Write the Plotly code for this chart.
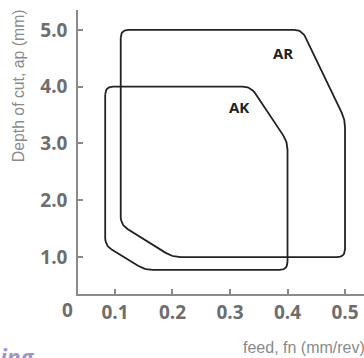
import numpy as np
import plotly.graph_objects as go

# Corner vertices of the two operating-area outlines (feed mm/rev, depth mm)
ar_feed = [0.11, 0.425, 0.5, 0.5, 0.2, 0.11]
ar_depth = [5.0, 5.0, 3.42, 1.0, 1.0, 1.57]
ak_feed = [0.083, 0.336, 0.4, 0.4, 0.152, 0.083]
ak_depth = [4.0, 4.0, 3.03, 0.775, 0.775, 1.2]

x_ticks = [0.1, 0.2, 0.3, 0.4, 0.5]
y_ticks = [1.0, 2.0, 3.0, 4.0, 5.0]

X_RANGE = [0.0357, 0.533]
Y_RANGE = [0.35, 5.35]
W, H = 364, 358
ML, MR, MT, MB = 78, 0, 10, 64
PW, PH = W - ML - MR, H - MT - MB
SX = PW / (X_RANGE[1] - X_RANGE[0])
SY = PH / (Y_RANGE[1] - Y_RANGE[0])


def rounded(xs, ys, r=8, n=10):
    px = np.array(xs) * SX
    py = np.array(ys) * SY
    m = len(px)
    out_x, out_y = [], []
    for i in range(m):
        p = np.array([px[i], py[i]])
        a = np.array([px[i - 1], py[i - 1]])
        b = np.array([px[(i + 1) % m], py[(i + 1) % m]])
        da = (a - p) / np.linalg.norm(a - p)
        db = (b - p) / np.linalg.norm(b - p)
        ra = min(r, np.linalg.norm(a - p) / 2)
        rb = min(r, np.linalg.norm(b - p) / 2)
        p0 = p + da * ra
        p2 = p + db * rb
        t = np.linspace(0, 1, n)[:, None]
        pts = (1 - t) ** 2 * p0 + 2 * (1 - t) * t * p + t ** 2 * p2
        out_x.extend(pts[:, 0])
        out_y.extend(pts[:, 1])
    out_x.append(out_x[0])
    out_y.append(out_y[0])
    return np.array(out_x) / SX, np.array(out_y) / SY


fig = go.Figure()
for fx, fy in [(ar_feed, ar_depth), (ak_feed, ak_depth)]:
    rx, ry = rounded(fx, fy)
    fig.add_trace(go.Scatter(x=rx, y=ry, mode="lines",
                             line=dict(color="#222222", width=1.8),
                             hoverinfo="skip", showlegend=False))

tick_font = dict(family="Open Sans", size=19, color="#6e6e6e", weight="bold")
axis_common = dict(showgrid=False, zeroline=False, showline=True,
                   linecolor="#8a8a8a", linewidth=1.5,
                   ticks="inside", ticklen=5, tickwidth=1.5, tickcolor="#8a8a8a",
                   tickfont=tick_font)

fig.update_layout(
    width=W, height=H,
    margin=dict(l=ML, r=MR, t=MT, b=MB),
    paper_bgcolor="white", plot_bgcolor="white",
    xaxis=dict(range=X_RANGE, tickvals=x_ticks,
               ticktext=[f"{v:.1f}" for v in x_ticks],
               ticklabelstandoff=0, **axis_common),
    yaxis=dict(range=Y_RANGE, tickvals=y_ticks,
               ticktext=[f"{v:.1f}" for v in y_ticks],
               ticklabelstandoff=5, **axis_common),
    annotations=[
        dict(text="AR", x=0.393, y=4.6, xref="x", yref="y", showarrow=False,
             font=dict(family="Open Sans", size=15, color="#222", weight="bold")),
        dict(text="AK", x=0.315, y=3.64, xref="x", yref="y", showarrow=False,
             font=dict(family="Open Sans", size=15, color="#222", weight="bold")),
        dict(text="0", x=-0.01, y=-0.057, xref="paper", yref="paper",
             xanchor="right", yanchor="middle", showarrow=False, font=tick_font),
        dict(text="Depth of cut, ap (mm)", x=-0.21, y=0.735, xref="paper", yref="paper",
             xanchor="center", yanchor="middle",
             textangle=-90, showarrow=False,
             font=dict(family="Liberation Sans", size=15.8, color="#8a8a8a")),
        dict(text="feed, fn (mm/rev)", x=1.012, y=-0.19, xref="paper", yref="paper",
             xanchor="right", yanchor="middle", showarrow=False,
             font=dict(family="Liberation Sans", size=16, color="#8a8a8a")),
        dict(text="<i>ing</i>", x=-0.28, y=-0.158, xref="paper", yref="paper",
             xanchor="left", yanchor="top", showarrow=False,
             font=dict(family="Open Sans", size=23, color="#9a96d2", weight="bold")),
    ],
)

fig.write_html("out.html", config={"displayModeBar": False},
               post_script="document.body.style.margin='0';document.body.style.overflow='hidden';")
